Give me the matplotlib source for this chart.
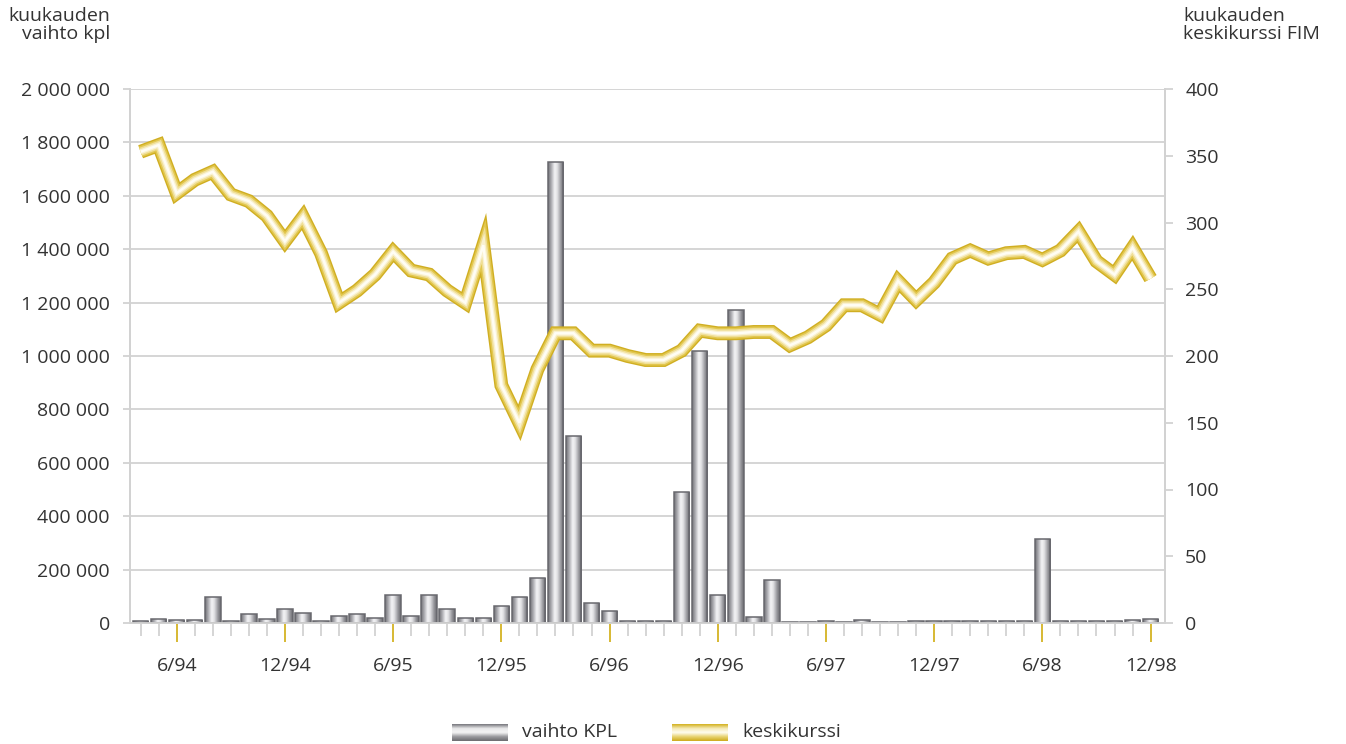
import matplotlib.pyplot as plt
import numpy as np
from matplotlib.colors import LinearSegmentedColormap

plt.rcParams['font.family'] = ['Open Sans', 'DejaVu Sans']

# monthly data 4/94 - 12/98
months = [f"{m}/{y}" for y in (94, 95, 96, 97, 98) for m in range(1, 13)][3:]
volume = [7000, 15000, 11000, 11000, 97000, 6000, 32000, 16000, 54000, 36000,
          6000, 26000, 32000, 17000, 106000, 25000, 103000, 54000, 17000, 17000,
          62000, 96000, 167000, 1725000, 700000, 76000, 44000, 7000, 6000, 6000,
          490000, 1018000, 103000, 1172000, 21000, 160000, 5000, 5000, 6000, 3000,
          10000, 5000, 3000, 7000, 6000, 6000, 6000, 6000, 6000, 6000,
          314000, 6000, 6000, 6000, 6000, 10000, 14000]
price = [353, 358, 322, 332, 338, 321, 316, 305, 286, 304,
         277, 240, 249, 261, 278, 264, 261, 249, 240, 283,
         178, 150, 190, 217, 217, 204, 204, 200, 197, 197,
         204, 219, 217, 217, 218, 218, 208, 214, 223, 238,
         238, 231, 256, 242, 255, 273, 279, 273, 277, 278,
         272, 279, 293, 271, 261, 281, 258]
tick_labels = ["6/94", "12/94", "6/95", "12/95", "6/96", "12/96",
               "6/97", "12/97", "6/98", "12/98"]
left_ticks = np.arange(0, 2000001, 200000)
right_ticks = np.arange(0, 401, 50)

TXT = '#333333'
GRID = '#d2d2d2'
GOLD = '#d4b323'
FS = 14

fig = plt.figure(figsize=(13.46, 7.44), dpi=100)
ax = fig.add_axes([130 / 1346, 121 / 744, 1035 / 1346, 534 / 744])
ax2 = ax.twinx()

x = np.arange(len(months))
major_idx = [i for i, m in enumerate(months) if m.split('/')[0] in ('6', '12')]

# bars with a cylinder-like gradient
grey_cmap = LinearSegmentedColormap.from_list('cyl', [
    (0.0, '#727277'), (0.18, '#a6a6ab'), (0.42, '#f4f4f6'),
    (0.58, '#e2e2e5'), (0.82, '#98989d'), (1.0, '#69696e')])
grad = np.linspace(0, 1, 64).reshape(1, -1)
bars = ax.bar(x, volume, width=0.86, facecolor='none', edgecolor='#68686e',
              linewidth=1.1, zorder=3)
for p in bars:
    x0, w, h = p.get_x(), p.get_width(), p.get_height()
    im = ax.imshow(grad, cmap=grey_cmap, aspect='auto', extent=[x0, x0 + w, 0, h],
                   zorder=2.5, interpolation='bilinear')
    im.set_clip_path(p)

# price line drawn in layers for the tube look
for lw, c in [(10.0, '#d0ae22'), (8.0, '#e2c74e'), (5.8, '#f0df97'),
              (3.6, '#f9f1d0'), (1.8, '#fffdf4')]:
    ax2.plot(x, price, color=c, lw=lw, solid_joinstyle='miter', solid_capstyle='butt',
             zorder=4)

ax.set_xlim(-0.59, 56.8)
ax.set_ylim(0, 2000000)
ax2.set_ylim(0, 400)

ax.set_yticks(left_ticks)
ax.set_yticklabels([f"{v:,}".replace(',', ' ') for v in left_ticks])
ax2.set_yticks(right_ticks)
ax2.set_yticklabels([str(v) for v in right_ticks])

ax.set_xticks(major_idx)
ax.set_xticklabels(tick_labels)
ax.set_xticks(x, minor=True)

ax.grid(axis='y', color=GRID, lw=1.3, zorder=0)
ax.set_axisbelow(True)

for a in (ax, ax2):
    a.spines['top'].set_visible(False)
    for s in ('left', 'right', 'bottom'):
        a.spines[s].set_color(GRID)
        a.spines[s].set_linewidth(1.3)

ax.tick_params(axis='y', length=5, width=1.3, color=GRID, pad=9.5,
               labelsize=FS, labelcolor=TXT)
ax2.tick_params(axis='y', length=6, width=1.3, color=GRID, pad=8.5,
                labelsize=FS, labelcolor=TXT)
ax.tick_params(axis='x', which='major', length=14, width=1.3, color=GOLD,
               pad=10.5, labelsize=FS, labelcolor=TXT)
ax.tick_params(axis='x', which='minor', length=9.5, width=1.3, color=GRID)

# axis headers
fig.text(110 / 1346, 1 - 7 / 744, "kuukauden\nvaihto kpl", ha='right', va='top',
         fontsize=FS, color=TXT, linespacing=1.0)
fig.text(1183 / 1346, 1 - 7 / 744, "kuukauden\nkeskikurssi FIM", ha='left', va='top',
         fontsize=FS, color=TXT, linespacing=1.0)

# legend
vgrad = np.linspace(0, 1, 32).reshape(-1, 1)
grey_leg = LinearSegmentedColormap.from_list('gl', ['#7a7a7f', '#e8e8ea', '#f4f4f4', '#9a9a9e', '#6e6e72'])
gold_leg = LinearSegmentedColormap.from_list('gd', [GOLD, '#f5eab5', '#fffdf2', '#e8d372', '#cfad1f'])
for left, cm_, label, tx in [(452, grey_leg, "vaihto KPL", 522),
                             (672, gold_leg, "keskikurssi", 742)]:
    lax = fig.add_axes([left / 1346, 3 / 744, 56 / 1346, 17 / 744])
    lax.imshow(vgrad, cmap=cm_, aspect='auto', interpolation='bilinear')
    lax.axis('off')
    fig.text(tx / 1346, 1 - 732 / 744, label, ha='left', va='center',
             fontsize=FS, color=TXT)

fig.savefig('out.png', dpi=100)
